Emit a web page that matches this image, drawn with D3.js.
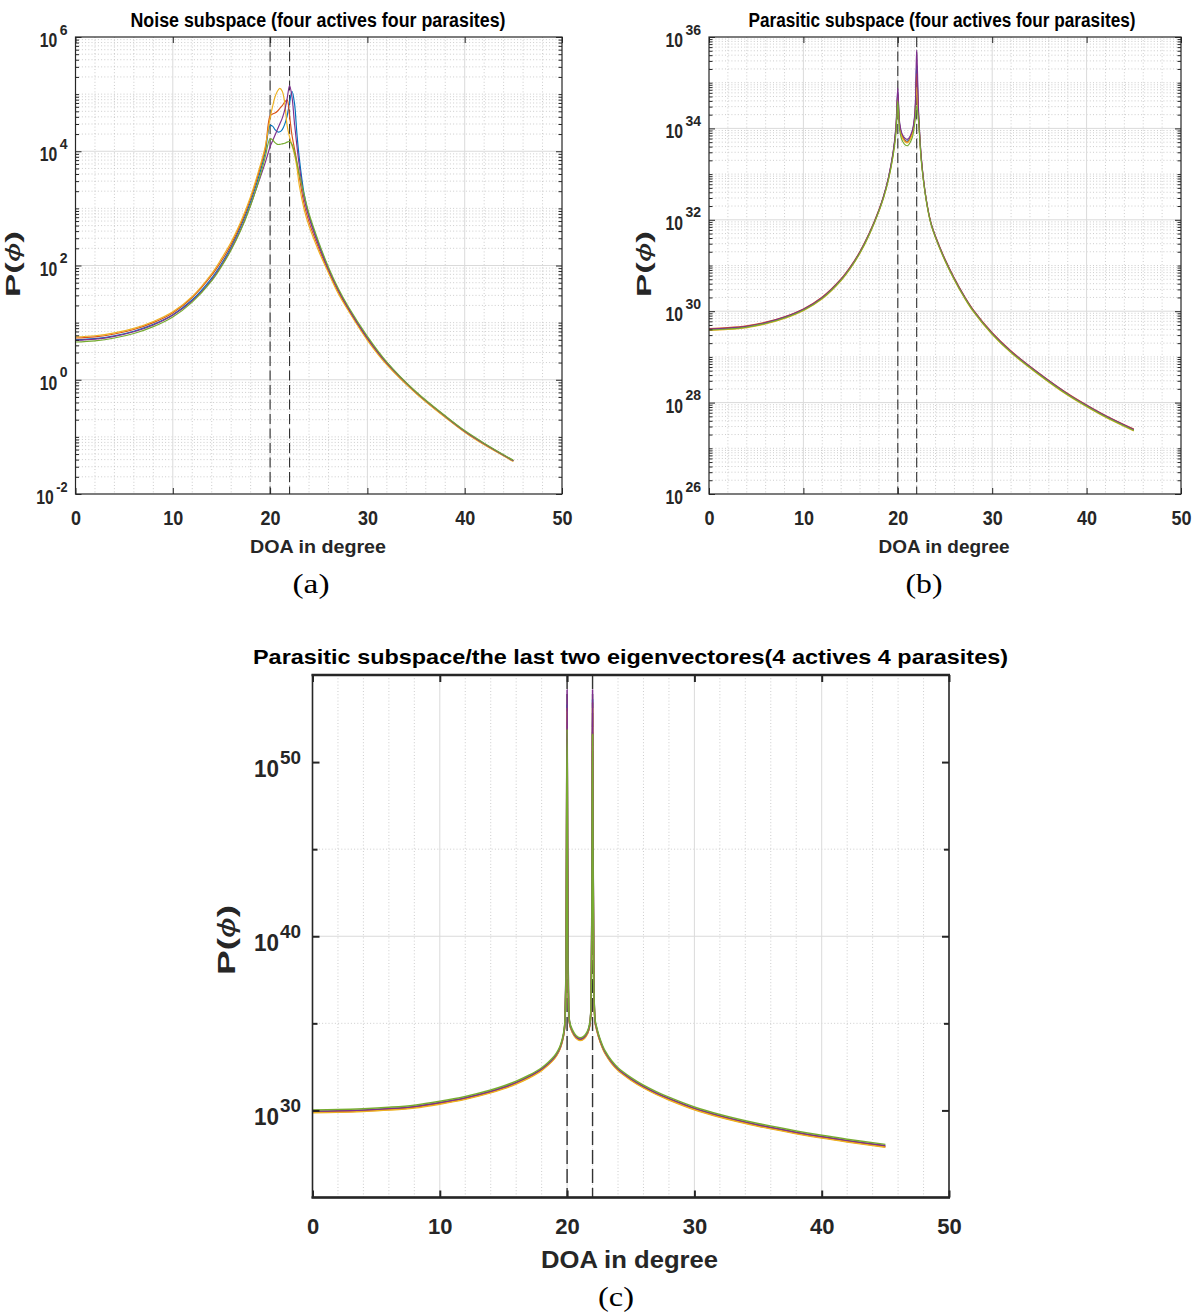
<!DOCTYPE html>
<html><head><meta charset="utf-8">
<script src="https://cdn.jsdelivr.net/npm/d3@7"></script>
<style>body{margin:0;background:#fff;} svg{display:block;}</style>
</head><body>
<script>
// ---------------- DATA (values are log10 of P(phi)) ----------------
const seriesNames = ['run 1','run 2','run 3','run 4','run 5'];
const seriesColors = ['#0072BD','#D95319','#EDB120','#7E2F8E','#77AC30'];
const sourceDOA = [20, 22];
const xTickValues = [0,10,20,30,40,50];
const aYTickExp = [-2,0,2,4,6];
const bYTickExp = [26,28,30,32,34,36];
const cYTickExp = [30,40,50];

// Panel (a): Noise subspace
const aDOA = [0,2,4,6,8,10,12,14,15,16,17,18,19,19.5,20,20.25,20.5,20.75,21,21.25,21.5,21.75,22,22.25,22.5,22.75,23,23.5,24,25,26,27,28,30,32,35,38,40,42,45];
const aBlue   = [0.70,0.72,0.77,0.85,0.97, 1.14,1.40,1.78,2.03,2.33, 2.69,3.12,3.65,3.98,4.45, 4.44,4.38,4.34,4.34,4.38, 4.47,4.62,4.85,5.05,4.85, 4.32,3.88,3.25,2.88,2.38, 1.95,1.58,1.27,0.74,0.30, -0.22,-0.64,-0.90,-1.12,-1.42];
const aRed    = [0.73,0.75,0.80,0.88,1.00, 1.17,1.44,1.83,2.08,2.37, 2.73,3.17,3.72,4.04,4.62, 4.65,4.67,4.70,4.75,4.80, 4.86,4.90,4.62,4.28,4.05, 3.82,3.55,3.07,2.76,2.30, 1.90,1.54,1.24,0.71,0.28, -0.23,-0.65,-0.91,-1.13,-1.42];
const aOrange = [0.75,0.77,0.82,0.90,1.02, 1.19,1.46,1.86,2.12,2.41, 2.77,3.21,3.76,4.08,4.58, 4.78,4.95,5.05,5.10,5.05, 4.85,4.45,4.25,4.10,3.95, 3.72,3.40,2.98,2.69,2.25, 1.87,1.51,1.22,0.69,0.26, -0.24,-0.66,-0.92,-1.14,-1.43];
const aPurple = [0.69,0.71,0.76,0.84,0.96, 1.13,1.38,1.75,2.00,2.29, 2.64,3.06,3.55,3.80,4.08, 4.18,4.28,4.38,4.48,4.58, 4.72,4.92,5.15,4.95,4.50, 4.10,3.75,3.17,2.84,2.35, 1.93,1.57,1.26,0.73,0.29, -0.22,-0.64,-0.90,-1.12,-1.42];
const aGreen  = [0.66,0.68,0.73,0.81,0.93, 1.10,1.36,1.73,1.98,2.27, 2.62,3.05,3.58,3.90,4.22, 4.20,4.15,4.12,4.12,4.13, 4.14,4.16,4.17,4.12,3.98, 3.80,3.60,3.24,2.91,2.41, 1.97,1.60,1.29,0.76,0.31, -0.21,-0.63,-0.89,-1.11,-1.41];

// Panel (b): Parasitic subspace
const bDOA = [0,2,4,6,8,10,12,14,15,16,17,18,18.5,19,19.5,19.8,20,20.2,20.5,21,21.5,21.8,22,22.2,22.5,23,23.5,24,25,26,27,28,30,32,35,38,40,42,45];
const bBlue   = [29.60,29.62,29.66,29.74,29.86, 30.03,30.29,30.69,30.96,31.29, 31.70,32.20,32.51,32.90,33.45, 33.99,34.80,34.08,33.83,33.72, 33.90,34.27,35.40,34.30,33.31, 32.45,31.93,31.62,31.12,30.70, 30.33,30.01,29.51,29.11,28.62, 28.18,27.93,27.70,27.40];
const bRed    = [29.62,29.64,29.68,29.76,29.88, 30.05,30.31,30.71,30.98,31.31, 31.72,32.22,32.52,32.91,33.45, 33.97,34.75,34.06,33.81,33.70, 33.88,34.25,35.20,34.28,33.32, 32.47,31.95,31.64,31.14,30.72, 30.35,30.03,29.53,29.13,28.64, 28.20,27.95,27.72,27.42];
const bOrange = [29.58,29.60,29.64,29.72,29.84, 30.01,30.27,30.67,30.94,31.27, 31.68,32.18,32.48,32.87,33.41, 33.94,34.70,34.03,33.79,33.68, 33.85,34.20,34.90,34.22,33.28, 32.43,31.91,31.60,31.10,30.68, 30.31,29.99,29.49,29.09,28.60, 28.16,27.91,27.68,27.38];
const bPurple = [29.61,29.63,29.67,29.75,29.87, 30.04,30.30,30.70,30.97,31.30, 31.71,32.21,32.52,32.92,33.48, 34.04,34.88,34.12,33.86,33.76, 33.93,34.32,35.72,34.38,33.34, 32.46,31.94,31.63,31.13,30.71, 30.34,30.02,29.52,29.12,28.63, 28.19,27.94,27.71,27.41];
const bGreen  = [29.59,29.61,29.65,29.73,29.85, 30.02,30.28,30.68,30.95,31.28, 31.69,32.19,32.49,32.87,33.40, 33.89,34.60,33.95,33.72,33.62, 33.78,34.12,34.50,34.15,33.26, 32.44,31.92,31.61,31.11,30.69, 30.32,30.00,29.50,29.10,28.61, 28.17,27.92,27.69,27.39];

// Panel (c): Parasitic subspace / last two eigenvectors
const cDOA = [0,2,4,6,8,10,12,14,15,16,17,18,18.5,19,19.3,19.5,19.7,19.8,19.9,20,20.1,20.2,20.4,20.7,21,21.3,21.6,21.8,21.9,22,22.1,22.2,22.3,22.5,22.8,23,23.5,24,25,26,27,28,30,32,35,38,40,42,45];
const cBlue   = [29.93,29.95,30.00,30.08,30.20, 30.42,30.70,31.07,31.30,31.58, 31.92,32.35,32.65,33.02,33.36, 33.70,34.25,34.75,37.50,53.30, 37.00,35.00,34.55,34.20,34.07, 34.15,34.45,35.00,37.50,53.60, 37.50,35.10,34.75,34.20,33.60, 33.30,32.75,32.35,31.80,31.35, 30.98,30.66,30.10,29.67,29.15, 28.72,28.47,28.25,27.95];
const cRed    = [29.90,29.92,29.97,30.05,30.17, 30.39,30.67,31.04,31.27,31.55, 31.89,32.32,32.62,32.99,33.33, 33.67,34.22,34.72,37.40,53.10, 36.90,34.97,34.52,34.17,34.04, 34.12,34.42,34.97,37.40,53.40, 37.40,35.07,34.72,34.17,33.57, 33.27,32.72,32.32,31.77,31.32, 30.95,30.63,30.07,29.64,29.12, 28.69,28.44,28.22,27.92];
const cOrange = [29.87,29.89,29.94,30.02,30.14, 30.36,30.64,31.01,31.24,31.52, 31.86,32.29,32.59,32.96,33.30, 33.64,34.19,34.69,37.30,52.90, 36.80,34.94,34.49,34.14,34.01, 34.09,34.39,34.94,37.30,53.10, 37.30,35.04,34.69,34.14,33.54, 33.24,32.69,32.29,31.74,31.29, 30.92,30.60,30.04,29.61,29.09, 28.66,28.41,28.19,27.89];
const cPurple = [29.96,29.98,30.03,30.11,30.23, 30.45,30.73,31.10,31.33,31.61, 31.95,32.38,32.68,33.05,33.39, 33.73,34.28,34.78,37.70,54.15, 37.20,35.03,34.58,34.23,34.10, 34.18,34.48,35.03,37.70,54.15, 37.70,35.13,34.78,34.23,33.63, 33.33,32.78,32.38,31.83,31.38, 31.01,30.69,30.13,29.70,29.18, 28.75,28.50,28.28,27.98];
const cGreen  = [30.03,30.05,30.10,30.18,30.30, 30.52,30.80,31.17,31.40,31.68, 32.02,32.45,32.75,33.12,33.46, 33.80,34.35,34.85,37.20,51.90, 36.70,35.10,34.65,34.30,34.17, 34.25,34.55,35.10,37.20,51.60, 37.20,35.20,34.85,34.30,33.70, 33.40,32.85,32.45,31.90,31.45, 31.08,30.76,30.20,29.77,29.25, 28.82,28.57,28.35,28.05];

// ---------------- DRAWING ----------------
const W = 1194, H = 1314;
const NARROW = '"Liberation Sans Narrow","Arial Narrow","Liberation Sans",Arial,sans-serif';
const REG = '"Liberation Sans",Arial,sans-serif';
const SERIF = '"Liberation Serif","DejaVu Serif",serif';
const INK = '#262626';

const svg = d3.select('body').append('svg').attr('width', W).attr('height', H);
svg.append('rect').attr('width', W).attr('height', H).attr('fill', '#fff');

function addText(g, o) {
  const t = g.append('text')
    .attr('x', o.x).attr('y', o.y)
    .attr('font-family', o.family).attr('font-size', o.size)
    .attr('font-weight', o.weight || 'bold')
    .attr('text-anchor', o.anchor || 'middle')
    .attr('fill', o.fill || INK);
  if (o.rotate) t.attr('transform', `rotate(${o.rotate},${o.x},${o.y})`);
  if (o.len) t.attr('textLength', o.len).attr('lengthAdjust', 'spacingAndGlyphs');
  if (o.parts) {
    o.parts.forEach(p => {
      const s = t.append('tspan').text(p.t);
      if (p.italic) s.attr('font-style', 'italic').attr('font-weight', 'normal');
    });
  } else t.text(o.text);
  return t;
}

function drawPanel(p) {
  const g = svg.append('g');
  const x = d3.scaleLinear().domain([0, 50]).range([p.left, p.right]);
  const y = d3.scaleLog().domain([Math.pow(10, p.yExp[0]), Math.pow(10, p.yExp[1])]).range([p.bottom, p.top]);

  const minorY = [];
  if (p.fineMinor) {
    for (let k = p.yExp[0]; k < p.yExp[1]; k++) {
      for (let m = 2; m <= 9; m++) minorY.push(m * Math.pow(10, k));
      if (!p.majorExp.includes(k)) minorY.push(Math.pow(10, k));
    }
  } else {
    p.coarseMinorExp.forEach(e => minorY.push(Math.pow(10, e)));
  }
  const minorX = d3.range(2, 50, 2).filter(d => d % 10 !== 0);
  const majorY = p.majorExp.map(e => Math.pow(10, e));

  // minor grid
  const gm = g.append('g').attr('stroke', '#c0c0c0').attr('stroke-width', 0.8)
    .attr('stroke-dasharray', '1,2.2').attr('fill', 'none');
  gm.selectAll(null).data(minorY).join('line')
    .attr('x1', p.left).attr('x2', p.right)
    .attr('y1', d => y(d)).attr('y2', d => y(d));
  gm.selectAll(null).data(minorX).join('line')
    .attr('y1', p.top).attr('y2', p.bottom)
    .attr('x1', d => x(d)).attr('x2', d => x(d));

  // major grid
  const gM = g.append('g').attr('stroke', '#dadada').attr('stroke-width', 1);
  gM.selectAll(null).data(majorY.slice(1, -1)).join('line')
    .attr('x1', p.left).attr('x2', p.right)
    .attr('y1', d => y(d)).attr('y2', d => y(d));
  gM.selectAll(null).data(xTickValues.slice(1, -1)).join('line')
    .attr('y1', p.top).attr('y2', p.bottom)
    .attr('x1', d => x(d)).attr('x2', d => x(d));

  // dashed source lines
  g.append('g').selectAll(null).data(sourceDOA).join('line')
    .attr('x1', d => x(d)).attr('x2', d => x(d))
    .attr('y1', p.top).attr('y2', p.bottom)
    .attr('stroke', '#333').attr('stroke-width', p.dashW)
    .attr('stroke-dasharray', p.dash);

  // curves
  const line = d3.line().x(d => x(d[0])).y(d => y(Math.pow(10, d[1]))).curve(d3.curveCatmullRom.alpha(0.5));
  const gc = g.append('g').attr('fill', 'none');
  p.series.forEach((vals, i) => {
    gc.append('path')
      .attr('d', line(p.doa.map((d, j) => [d, vals[j]])))
      .attr('stroke', seriesColors[i]).attr('stroke-width', p.lineW)
      .attr('stroke-linejoin', 'round');
  });

  // axes (inward ticks)
  const fmt = d3.format('d');
  const gB = g.append('g').attr('transform', `translate(0,${p.bottom})`)
    .call(d3.axisBottom(x).tickValues(xTickValues).tickSizeInner(-p.tick).tickSizeOuter(0).tickFormat(fmt));
  const gT = g.append('g').attr('transform', `translate(0,${p.top})`)
    .call(d3.axisTop(x).tickValues(xTickValues).tickSizeInner(-p.tick).tickSizeOuter(0).tickFormat(() => ''));
  const gL = g.append('g').attr('transform', `translate(${p.left},0)`)
    .call(d3.axisLeft(y).tickValues(majorY).tickSizeInner(-p.tick).tickSizeOuter(0).tickFormat(() => ''));
  const gR = g.append('g').attr('transform', `translate(${p.right},0)`)
    .call(d3.axisRight(y).tickValues(majorY).tickSizeInner(-p.tick).tickSizeOuter(0).tickFormat(() => ''));
  const gLm = g.append('g').attr('transform', `translate(${p.left},0)`)
    .call(d3.axisLeft(y).tickValues(minorY).tickSizeInner(-p.minorTick).tickSizeOuter(0).tickFormat(() => ''));
  const gRm = g.append('g').attr('transform', `translate(${p.right},0)`)
    .call(d3.axisRight(y).tickValues(minorY).tickSizeInner(-p.minorTick).tickSizeOuter(0).tickFormat(() => ''));
  [gB, gT, gL, gR, gLm, gRm].forEach(a => {
    a.select('.domain').remove();
    a.selectAll('line').attr('stroke', INK).attr('stroke-width', p.tickW);
    a.attr('font-family', null).attr('font-size', null);
  });
  [gT, gL, gR, gLm, gRm].forEach(a => a.selectAll('text').remove());
  const xt = gB.selectAll('text')
    .attr('y', p.xLabDy).attr('dy', null)
    .attr('font-family', p.font).attr('font-size', p.xTickSize)
    .attr('font-weight', 'bold').attr('fill', INK);
  if (p.xDigitW) xt.attr('textLength', d => String(d).length * p.xDigitW).attr('lengthAdjust', 'spacingAndGlyphs');

  // box
  g.append('rect').attr('x', p.left).attr('y', p.top)
    .attr('width', p.right - p.left).attr('height', p.bottom - p.top)
    .attr('fill', 'none').attr('stroke', INK).attr('stroke-width', p.boxW);
  if (p.hBoxW) {
    [p.top, p.bottom].forEach(yy => g.append('line')
      .attr('x1', p.left - 1).attr('x2', p.right + 1).attr('y1', yy).attr('y2', yy)
      .attr('stroke', INK).attr('stroke-width', p.hBoxW));
  }

  // y tick labels 10^n : one text, base "10" plus superscript exponent
  p.majorExp.forEach(e => {
    const s = String(e);
    const ty = y(Math.pow(10, e));
    const supW = s.replace('-', '').length * p.supDigitW + (s.includes('-') ? p.supDigitW * 0.45 : 0);
    const supX = p.left - p.yLabGap - supW;
    const baseX = supX - p.supGap - p.tenW;
    const t = g.append('text')
      .attr('font-family', p.font).attr('font-weight', 'bold').attr('fill', INK)
      .attr('text-anchor', 'start');
    t.append('tspan').attr('x', baseX).attr('y', ty + p.yLabDy)
      .attr('font-size', p.yLabSize)
      .attr('textLength', p.tenW).attr('lengthAdjust', 'spacingAndGlyphs').text('10');
    t.append('tspan').attr('x', supX).attr('y', ty + p.supDy)
      .attr('font-size', p.supSize)
      .attr('textLength', supW).attr('lengthAdjust', 'spacingAndGlyphs').text(s);
  });

  // title and axis labels
  addText(g, { x: p.titleX, y: p.titleY, text: p.title, size: p.titleSize, family: p.font, len: p.titleLen, fill: '#000' });
  addText(g, { x: p.xlabX, y: p.xlabY, text: 'DOA in degree', size: p.xlabSize, family: p.font, len: p.xlabLen });
  addText(g, { x: p.ylabX, y: p.ylabY, size: p.ylabSize, family: p.font, rotate: -90, len: p.ylabLen,
    parts: [{ t: 'P(' }, { t: 'ϕ', italic: true }, { t: ')' }] });
  addText(g, { x: p.capX, y: p.capY, text: p.caption, size: p.capSize, family: SERIF, weight: 'normal', len: p.capLen, fill: '#000' });
}

const common = {
  fineMinor: true, tick: 6, minorTick: 3.5, tickW: 1, boxW: 1.2, lineW: 1.15,
  dash: '10,4.5', dashW: 1.1, font: NARROW,
  yLabSize: 20, supSize: 14, yLabGap: 8, yLabDy: 10, supDy: -2.5, tenW: 17.5, supDigitW: 7.8, supGap: 2.5,
  xTickSize: 20.5, xLabDy: 31, xDigitW: 10,
  titleY: 26.5, titleSize: 19.5, xlabY: 553, xlabSize: 19, ylabSize: 21, ylabLen: 66,
  capY: 593, capSize: 27, capLen: 37
};

drawPanel(Object.assign({}, common, {
  left: 75.5, right: 562, top: 37, bottom: 494, yExp: [-2, 6], majorExp: aYTickExp,
  doa: aDOA, series: [aBlue, aRed, aOrange, aPurple, aGreen],
  title: 'Noise subspace (four actives four parasites)', titleX: 318, titleLen: 375,
  xlabX: 318, xlabLen: 136, ylabX: 20, ylabY: 264, capX: 311, caption: '(a)'
}));

drawPanel(Object.assign({}, common, {
  left: 709, right: 1181, top: 37, bottom: 494, yExp: [26, 36], majorExp: bYTickExp,
  doa: bDOA, series: [bBlue, bRed, bOrange, bPurple, bGreen],
  title: 'Parasitic subspace (four actives four parasites)', titleX: 942, titleLen: 387,
  xlabX: 944, xlabLen: 131, ylabX: 651, ylabY: 264, capX: 924, caption: '(b)'
}));

drawPanel({
  left: 312.5, right: 949, top: 675, bottom: 1197.5, yExp: [25, 55], majorExp: cYTickExp,
  fineMinor: false, coarseMinorExp: [35, 45],
  tick: 7, minorTick: 5, tickW: 2, boxW: 1.6, hBoxW: 2.6, lineW: 1.5,
  dash: '14,5', dashW: 1.4, font: REG,
  doa: cDOA, series: [cBlue, cRed, cOrange, cPurple, cGreen],
  yLabSize: 23, supSize: 17.5, yLabGap: 11.5, yLabDy: 15, supDy: 1.5, tenW: 25, supDigitW: 10.5, supGap: 1,
  xTickSize: 22, xLabDy: 36,
  title: 'Parasitic subspace/the last two eigenvectores(4 actives 4 parasites)', titleX: 630.5, titleY: 663.5, titleSize: 21, titleLen: 755,
  xlabX: 629.5, xlabY: 1268, xlabSize: 24, xlabLen: 177,
  ylabX: 235, ylabY: 940, ylabSize: 24, ylabLen: 70,
  capX: 616, capY: 1306, capSize: 28, capLen: 36, caption: '(c)'
});
</script>
</body></html>
